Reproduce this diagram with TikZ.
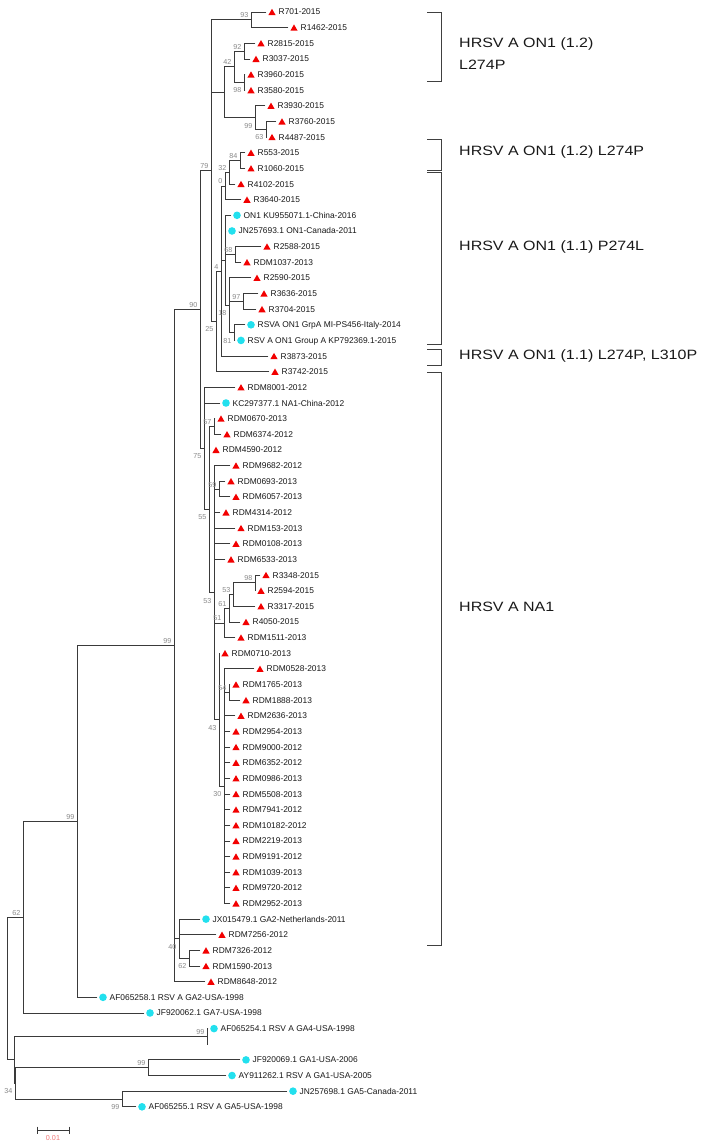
\documentclass[tikz,border=0pt]{standalone}
\usepackage{fontspec}
\setmainfont{Liberation Sans}
\usetikzlibrary{shapes.geometric,positioning}
\definecolor{treeline}{HTML}{3A3A3A}
\definecolor{bootgray}{HTML}{8A8A8A}
\definecolor{markred}{HTML}{F20000}
\definecolor{markcyan}{HTML}{22E0EE}
\definecolor{scalered}{HTML}{F07878}
% row number -> vertical position
\newcommand{\ry}[1]{12+15.64*#1}
\newcommand{\wide}[1]{\scalebox{1.185}[1]{#1}}

\begin{document}
\begin{tikzpicture}[
    x=1pt,y=-1pt,
    branch/.style={draw=treeline,line width=0.8pt,line cap=rect},
    tri/.style={regular polygon,regular polygon sides=3,fill=markred,minimum size=8.4pt,inner sep=0pt,yshift=-1pt},
    dot/.style={circle,fill=markcyan,minimum size=7.6pt,inner sep=0pt},
    taxon/.style={font=\fontsize{8.4}{10}\selectfont,text=black!90,inner sep=0pt,text height=6pt,text depth=0pt},
    boot/.style={font=\fontsize{7.2}{8}\selectfont,text=bootgray,inner sep=0pt,anchor=east,xshift=-2.5pt},
    bsa/.style={boot,yshift=4.5pt},
    bsb/.style={boot,yshift=-8pt},
    clade/.style={draw=black!75,line width=0.8pt},
    cladetext/.style={font=\fontsize{13.5}{22}\selectfont,text=black!90,inner sep=0pt,anchor=west,text height=9.7pt,text depth=0pt}
  ]
  \fill[white] (0,0) rectangle (709,1147);
  \useasboundingbox (0,0) rectangle (709,1147);

  % internal nodes
  \foreach \nm/\nx/\rw in {n93/251/0.5, n92/244/2.5, n98a/244/4.5, n42/234/3.5,
      n63/266/7.5, n99a/255/6.75, nA/224/5.125, n84/240/9.5, n32/229/10.25,
      n0/225/11.125, n68/235/15.5, n97/243/18.5, n81/234/20.5, n18/229/18.75,
      nB/225/15.875, n4/221/16.5625, n25/216/19.78, n79/211/10.14,
      n57/214/26.5, n59/219/30.5, n98b/255/36.5, n53b/233/37.25, n61/229/38.125,
      n51/224/39.0625, n54/229/43.5, n30/224/49.5, n43/219/45.25, n53/214/37.125,
      n55/209/31.8125, n75/204/27.906, n90/200/19.023, n62a/189/60.5,
      n40/179/59.25, nbig/174/40.51, n99c/77/51.756, n62r/23/57.878,
      nga4/207/65.5, nga1/148/67.5, nga5/122/69.5, n34/15/68.5, nX/14/67,
      root/7/62.44}
    \coordinate (\nm) at (\nx,\ry{\rw});

  % leaves
  \foreach \nm/\mx/\rw/\mk/\tx in {
      t1/272/0/tri/R701-2015, t2/294/1/tri/R1462-2015,
      t3/261/2/tri/R2815-2015, t4/256/3/tri/R3037-2015,
      t5/251/4/tri/R3960-2015, t6/251/5/tri/R3580-2015,
      t7/271/6/tri/R3930-2015, t8/282/7/tri/R3760-2015,
      t9/272/8/tri/R4487-2015, t10/251/9/tri/R553-2015,
      t11/251/10/tri/R1060-2015, t12/241/11/tri/R4102-2015,
      t13/247/12/tri/R3640-2015, t14/237/13/dot/ON1 KU955071.1-China-2016,
      t15/232/14/dot/JN257693.1 ON1-Canada-2011, t16/267/15/tri/R2588-2015,
      t17/247/16/tri/RDM1037-2013, t18/257/17/tri/R2590-2015,
      t19/264/18/tri/R3636-2015, t20/262/19/tri/R3704-2015,
      t21/251/20/dot/RSVA ON1 GrpA MI-PS456-Italy-2014,
      t22/241/21/dot/RSV A ON1 Group A KP792369.1-2015,
      t23/274/22/tri/R3873-2015, t24/275/23/tri/R3742-2015,
      t25/241/24/tri/RDM8001-2012, t26/226/25/dot/KC297377.1 NA1-China-2012,
      t27/221/26/tri/RDM0670-2013, t28/227/27/tri/RDM6374-2012,
      t29/216/28/tri/RDM4590-2012, t30/236/29/tri/RDM9682-2012,
      t31/231/30/tri/RDM0693-2013, t32/236/31/tri/RDM6057-2013,
      t33/226/32/tri/RDM4314-2012, t34/241/33/tri/RDM153-2013,
      t35/236/34/tri/RDM0108-2013, t36/231/35/tri/RDM6533-2013,
      t37/266/36/tri/R3348-2015, t38/261/37/tri/R2594-2015,
      t39/261/38/tri/R3317-2015, t40/246/39/tri/R4050-2015,
      t41/241/40/tri/RDM1511-2013, t42/225/41/tri/RDM0710-2013,
      t43/260/42/tri/RDM0528-2013, t44/236/43/tri/RDM1765-2013,
      t45/246/44/tri/RDM1888-2013, t46/241/45/tri/RDM2636-2013,
      t47/236/46/tri/RDM2954-2013, t48/236/47/tri/RDM9000-2012,
      t49/236/48/tri/RDM6352-2012, t50/236/49/tri/RDM0986-2013,
      t51/236/50/tri/RDM5508-2013, t52/236/51/tri/RDM7941-2012,
      t53/236/52/tri/RDM10182-2012, t54/236/53/tri/RDM2219-2013,
      t55/236/54/tri/RDM9191-2012, t56/236/55/tri/RDM1039-2013,
      t57/236/56/tri/RDM9720-2012, t58/236/57/tri/RDM2952-2013,
      t59/206/58/dot/JX015479.1 GA2-Netherlands-2011,
      t60/222/59/tri/RDM7256-2012, t61/206/60/tri/RDM7326-2012,
      t62/206/61/tri/RDM1590-2013, t63/211/62/tri/RDM8648-2012,
      t64/103/63/dot/AF065258.1 RSV A GA2-USA-1998,
      t65/150/64/dot/JF920062.1 GA7-USA-1998,
      t66/214/65/dot/AF065254.1 RSV A GA4-USA-1998,
      t68/246/67/dot/JF920069.1 GA1-USA-2006,
      t69/232/68/dot/AY911262.1 RSV A GA1-USA-2005,
      t70/293/69/dot/JN257698.1 GA5-Canada-2011,
      t71/142/70/dot/AF065255.1 RSV A GA5-USA-1998}{
    \coordinate (\nm) at (\mx-6,\ry{\rw});
    \node[\mk] (\nm-m) at (\mx,\ry{\rw}) {};
    \node[taxon,right=12.5pt of \nm] (\nm-l) {\tx};
  }
  \coordinate (t67) at (207,\ry{66});

  % branches
  \foreach \pa/\ch in {n93/t1, n93/t2, n92/t3, n92/t4, n98a/t5, n98a/t6,
      n42/n92, n42/n98a, n63/t8, n63/t9, n99a/t7, n99a/n63, nA/n42, nA/n99a,
      n84/t10, n84/t11, n32/n84, n32/t12, n0/n32, n0/t13,
      n68/t16, n68/t17, n97/t19, n97/t20, n81/t21, n81/t22,
      n18/t18, n18/n97, n18/n81, nB/t14, nB/t15, nB/n68, nB/n18,
      n4/n0, n4/nB, n4/t23, n25/n4, n25/t24, n79/n93, n79/nA, n79/n25,
      n57/t27, n57/t28, n59/t31, n59/t32, n98b/t37, n98b/t38,
      n53b/n98b, n53b/t39, n61/n53b, n61/t40, n51/n61, n51/t41,
      n54/t44, n54/t45, n30/t43, n30/n54, n30/t46, n30/t47, n30/t48, n30/t49,
      n30/t50, n30/t51, n30/t52, n30/t53, n30/t54, n30/t55, n30/t56, n30/t57,
      n30/t58, n43/t42, n43/n30,
      n53/t30, n53/n59, n53/t33, n53/t34, n53/t35, n53/t36, n53/n51, n53/n43,
      n55/n57, n55/t29, n55/n53, n75/t25, n75/t26, n75/n55, n90/n79, n90/n75,
      n62a/t61, n62a/t62, n40/t59, n40/t60, n40/n62a,
      nbig/n90, nbig/n40, nbig/t63, n99c/nbig, n99c/t64, n62r/n99c, n62r/t65,
      nga4/t66, nga4/t67, nga1/t68, nga1/t69, nga5/t70, nga5/t71,
      n34/nga1, n34/nga5, nX/nga4, nX/n34, root/n62r, root/nX}
    \draw[branch] (\pa) |- (\ch);

  % bootstrap values
  \foreach \nd/\bv/\st in {n93/93/bsa, n92/92/bsa, n42/42/bsa, n98a/98/bsb,
      n99a/99/bsb, n63/63/bsb, n79/79/bsa, n84/84/bsa, n32/32/bsa, n0/0/bsa,
      n68/68/bsa, n4/4/bsa, n97/97/bsa, n18/18/bsb, n81/81/bsb, n25/25/bsb,
      n90/90/bsa, n75/75/bsb, n57/57/bsa, n55/55/bsb, n59/59/bsa, n53/53/bsb,
      n98b/98/bsa, n53b/53/bsa, n61/61/bsa, n51/51/bsa, n54/54/bsa,
      n43/43/bsb, n30/30/bsb, nbig/99/bsa, n40/40/bsb, n62a/62/bsb,
      n99c/99/bsa, n62r/62/bsa, nga4/99/bsa, nga1/99/bsa, nga5/99/bsb,
      n34/34/bsb}
    \node[\st] (\nd-b) at (\nd) {\bv};

  % clade brackets
  \draw[clade] (427,12.7) -| (441.7,81) -- (427,81);
  \draw[clade] (427,139.3) -| (441.7,170) -- (427,170);
  \draw[clade] (427,172.3) -| (441.7,344) -- (427,344);
  \draw[clade] (427,349.5) -| (441.7,365) -- (427,365);
  \draw[clade] (427,372) -| (441.7,945) -- (427,945);
  \node[cladetext,align=left,text height=,text depth=] (on12a) at (459,54) {\wide{HRSV A ON1 (1.2)}\\\wide{L274P}};
  \node[cladetext] (on12b) at (459,150.5) {\wide{HRSV A ON1 (1.2) L274P}};
  \node[cladetext] (on11a) at (459,245.5) {\wide{HRSV A ON1 (1.1) P274L}};
  \node[cladetext] (on11b) at (459,355) {\wide{HRSV A ON1 (1.1) L274P, L310P}};
  \node[cladetext] (na1) at (459,607) {\wide{HRSV A NA1}};

  % scale bar
  \coordinate (sbL) at (37,1130);
  \coordinate (sbR) at (69,1130);
  \draw[branch,line cap=butt] (sbL) -- (sbR);
  \draw[branch,line cap=butt] ([yshift=3.5pt]sbL) -- ([yshift=-3.5pt]sbL);
  \draw[branch,line cap=butt] ([yshift=3.5pt]sbR) -- ([yshift=-3.5pt]sbR);
  \node[font=\fontsize{7.2}{8}\selectfont,text=scalered,inner sep=0pt] (sbtext) at (53,1138.5) {0.01};
\end{tikzpicture}
\end{document}
